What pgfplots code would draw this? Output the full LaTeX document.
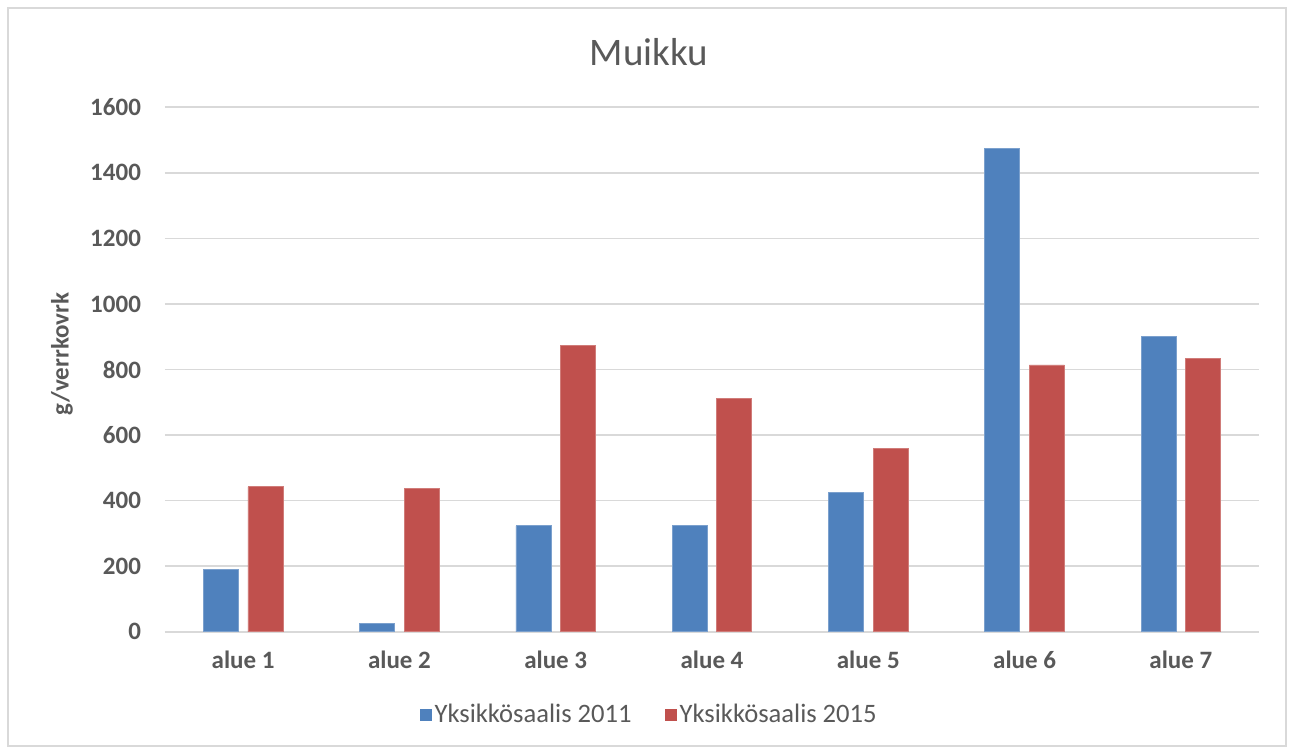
\documentclass[border=0pt]{standalone}
\usepackage{pgfplots}
\pgfplotsset{compat=1.18}
\usepackage{fontspec}
\setmainfont{Carlito}
\definecolor{cblue}{HTML}{4F81BD}
\definecolor{cred}{HTML}{C0504D}
\definecolor{cgrid}{HTML}{D9D9D9}
\definecolor{ctext}{HTML}{595959}
\definecolor{cframe}{HTML}{D9D9D9}
\begin{document}
\begin{tikzpicture}
\begin{axis}[
  scale only axis,
  width=547pt, height=262.3pt,
  ymin=0, ymax=1600,
  xmin=-0.5, xmax=6.5,
  ytick={0,200,...,1600},
  xtick=data,
  xticklabels={alue 1,alue 2,alue 3,alue 4,alue 5,alue 6,alue 7},
  ymajorgrids,
  grid style={cgrid, line width=0.75pt},
  axis line style={draw=none},
  major tick length=0pt,
  ybar=4.8pt,
  bar width=17.5pt,
  /pgf/number format/assume math mode=true,
  /pgf/number format/1000 sep={},
  tick label style={font=\fontsize{12.5}{14}\selectfont\bfseries, text=ctext},
  yticklabel style={xshift=-8.5pt},
  xticklabel style={yshift=-6pt},
  ylabel={g/verrkovrk},
  ylabel style={at={(axis description cs:-0.0942,0.53)}, anchor=center, font=\fontsize{12.5}{14}\selectfont\bfseries, text=ctext},
  legend style={at={(axis description cs:0.443,0)}, yshift=-41.6pt, anchor=center, draw=none, fill=none,
    font=\fontsize{13.3}{15}\selectfont, text=ctext,
    /tikz/every even column/.append style={column sep=15pt},
    nodes={inner sep=1.5pt}},
  legend columns=2,
  legend image code/.code={\fill[#1,draw=none] (0pt,-3pt) rectangle (6pt,3pt);},
]
\addplot[fill=cblue, draw=cblue!75!white, line width=0.4pt] coordinates {(0,190) (1,26) (2,323) (3,323) (4,425) (5,1473) (6,901)};
\addplot[fill=cred, draw=cred!75!white, line width=0.4pt] coordinates {(0,442) (1,438) (2,874) (3,711) (4,559) (5,814) (6,834)};
\legend{Yksikkösaalis 2011, Yksikkösaalis 2015}
\end{axis}
\node[anchor=base, text=ctext, font=\fontsize{19.5}{22}\selectfont] at (242pt,283pt) {Muikku};
\draw[cframe, line width=0.75pt] (-78.5pt,-57.2pt) rectangle (560.5pt,311.9pt);
\pgfresetboundingbox
\path (-82.5pt,-58.2pt) rectangle (562.5pt,315.9pt);
\end{tikzpicture}
\end{document}
